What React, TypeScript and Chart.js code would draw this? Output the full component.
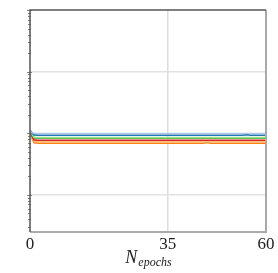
import React, { useEffect, useRef } from "react";
import { Chart, registerables } from "chart.js";

Chart.register(...registerables);

const epochs = [0, 1, 2, 10, 20, 30, 40, 44, 45, 46, 50, 54, 55, 56, 57, 60];
const lightBlue = [1.06, 1.0, 0.99, 0.99, 0.99, 0.99, 0.99, 0.99, 0.99, 0.99, 0.99, 0.99, 0.99, 0.99, 0.99, 0.99];
const blue = [1.12, 0.94, 0.93, 0.93, 0.93, 0.93, 0.93, 0.93, 0.93, 0.93, 0.93, 0.93, 0.95, 0.93, 0.93, 0.93];
const lightGreen = [1.1, 0.86, 0.85, 0.85, 0.85, 0.85, 0.85, 0.85, 0.85, 0.85, 0.85, 0.85, 0.85, 0.85, 0.85, 0.85];
const green = [1.08, 0.84, 0.83, 0.83, 0.83, 0.83, 0.83, 0.83, 0.83, 0.83, 0.83, 0.83, 0.83, 0.83, 0.83, 0.83];
const red = [1.04, 0.78, 0.77, 0.77, 0.77, 0.77, 0.77, 0.77, 0.77, 0.77, 0.77, 0.77, 0.77, 0.77, 0.77, 0.77];
const lightOrange = [1.02, 0.74, 0.73, 0.73, 0.73, 0.73, 0.73, 0.73, 0.73, 0.73, 0.73, 0.73, 0.73, 0.73, 0.73, 0.73];
const orange = [1.0, 0.7, 0.69, 0.69, 0.69, 0.69, 0.69, 0.69, 0.71, 0.69, 0.69, 0.69, 0.69, 0.69, 0.69, 0.69];

const xTicks = [0, 35, 60];
const yGridTicks = [0.1, 1, 10];
const xTitleMain = "N";
const xTitleSub = "epochs";

const series = [
  { label: "a", values: lightBlue, color: "#aec7e8" },
  { label: "b", values: blue, color: "#1f77b4" },
  { label: "c", values: lightGreen, color: "#98df8a" },
  { label: "d", values: green, color: "#2ca02c" },
  { label: "e", values: red, color: "#d62728" },
  { label: "f", values: lightOrange, color: "#ffbb78" },
  { label: "g", values: orange, color: "#ff7f0e" },
];

const serif = "'Liberation Serif', 'DejaVu Serif', serif";

const framePlugin = {
  id: "frame",
  afterDraw(chart: any) {
    const { ctx, chartArea: a, scales } = chart;
    const y = scales.y;
    ctx.save();
    ctx.strokeStyle = "#666";
    ctx.lineWidth = 0.8;
    for (let d = -2; d <= 2; d++) {
      for (let m = 1; m <= 9; m++) {
        const v = m * Math.pow(10, d);
        if (v < y.min || v > y.max) continue;
        const py = Math.round(y.getPixelForValue(v)) + 0.5;
        const len = m === 1 ? 3 : 2;
        ctx.beginPath();
        ctx.moveTo(a.left - len, py);
        ctx.lineTo(a.left + len - 1, py);
        ctx.stroke();
      }
    }
    ctx.strokeStyle = "#aaaaaa";
    ctx.lineWidth = 2;
    ctx.beginPath();
    ctx.moveTo(a.right, a.top);
    ctx.lineTo(a.right, a.bottom);
    ctx.lineTo(a.left, a.bottom);
    ctx.stroke();
    ctx.strokeStyle = "#555555";
    ctx.lineWidth = 1.5;
    ctx.beginPath();
    ctx.moveTo(a.left, a.bottom);
    ctx.lineTo(a.left, a.top);
    ctx.lineTo(a.right, a.top);
    ctx.stroke();
    ctx.fillStyle = "#222";
    ctx.textBaseline = "alphabetic";
    ctx.font = "italic 18px " + serif;
    const w1 = ctx.measureText(xTitleMain).width;
    ctx.font = "italic 12px " + serif;
    const w2 = ctx.measureText(xTitleSub).width;
    const cx = (a.left + a.right) / 2;
    const x0 = cx - (w1 + w2) / 2;
    ctx.font = "italic 18px " + serif;
    ctx.fillText(xTitleMain, x0, 263);
    ctx.font = "italic 12px " + serif;
    ctx.fillText(xTitleSub, x0 + w1 + 1, 266);
    ctx.restore();
  },
};

export default function App() {
  const ref = useRef<HTMLCanvasElement | null>(null);
  useEffect(() => {
    if (!ref.current) return;
    const chart = new Chart(ref.current, {
      type: "line",
      data: {
        datasets: series.map((s) => ({
          label: s.label,
          data: epochs.map((e, i) => ({ x: e, y: s.values[i] })),
          borderColor: s.color,
          borderWidth: 1.6,
          pointRadius: 0,
          tension: 0,
          fill: false,
        })),
      },
      options: {
        animation: false,
        responsive: false,
        maintainAspectRatio: false,
        layout: { padding: { left: 0, top: 10, right: 12, bottom: 0 } },
        plugins: { legend: { display: false }, tooltip: { enabled: false } },
        scales: {
          x: {
            type: "linear",
            min: 0,
            max: 60,
            afterBuildTicks: (s: any) => {
              s.ticks = xTicks.map((v) => ({ value: v }));
            },
            afterFit: (s: any) => {
              s.height = 41;
            },
            border: { display: false },
            grid: {
              color: (c: any) => (c.tick && c.tick.value === 35 ? "#dddddd" : "rgba(0,0,0,0)"),
              lineWidth: 1.5,
              drawTicks: false,
            },
            ticks: {
              padding: 2,
              color: "#222",
              maxRotation: 0,
              font: { family: serif, size: 17 },
              callback: (v: any) => String(v),
            },
          },
          y: {
            type: "logarithmic",
            min: 0.025,
            max: 100,
            afterBuildTicks: (s: any) => {
              s.ticks = yGridTicks.map((v) => ({ value: v }));
            },
            afterFit: (s: any) => {
              s.width = 30;
            },
            border: { display: false },
            grid: { color: "#e2e2e2", lineWidth: 1.5, drawTicks: false },
            ticks: { display: false },
          },
        },
      },
      plugins: [framePlugin],
    });
    return () => chart.destroy();
  }, []);
  return (
    <div style={{ position: "fixed", left: 0, top: 0, width: 278, height: 273, background: "#fff" }}>
      <canvas ref={ref} width={278} height={273} style={{ display: "block", width: 278, height: 273 }} />
    </div>
  );
}
